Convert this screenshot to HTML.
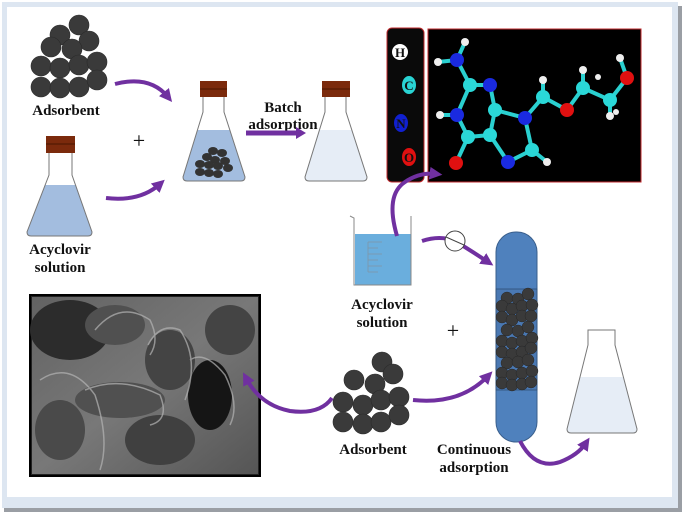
<!DOCTYPE html>
<html><head><meta charset="utf-8"><style>
html,body{margin:0;padding:0;background:#fff;}
svg{display:block;}
text{font-family:"Liberation Serif",serif;font-weight:bold;fill:#111;}
</style></head><body>
<svg width="685" height="512" viewBox="0 0 685 512" xmlns="http://www.w3.org/2000/svg">
<defs>
<marker id="ah" viewBox="0 0 10 10" refX="5" refY="5" markerWidth="3.2" markerHeight="3.2" orient="auto"><path d="M0,0 L10,5 L0,10 z" fill="#7030a0"/></marker>
<linearGradient id="sem" x1="0" y1="0" x2="1" y2="1"><stop offset="0" stop-color="#626262"/><stop offset="0.5" stop-color="#787878"/><stop offset="1" stop-color="#555"/></linearGradient>
</defs>
<!-- frame -->
<rect x="0" y="0" width="685" height="512" fill="#fff"/>
<rect x="4" y="6" width="678" height="506" fill="#9a9ea4"/>
<rect x="2" y="2" width="676" height="506" fill="#dde6f1"/>
<rect x="7" y="7" width="665" height="490" fill="#fff"/>

<!-- SEM -->
<rect x="30" y="295" width="230" height="181" fill="#222" stroke="#000" stroke-width="2"/>
<rect x="32" y="297" width="226" height="177" fill="url(#sem)"/>
<g>
<ellipse cx="70" cy="330" rx="40" ry="30" fill="#2c2c2c"/>
<ellipse cx="115" cy="325" rx="30" ry="20" fill="#505050"/>
<ellipse cx="170" cy="360" rx="25" ry="30" fill="#444"/>
<ellipse cx="210" cy="395" rx="22" ry="35" fill="#151515"/>
<ellipse cx="120" cy="400" rx="45" ry="18" fill="#505050"/>
<ellipse cx="160" cy="440" rx="35" ry="25" fill="#404040"/>
<ellipse cx="60" cy="430" rx="25" ry="30" fill="#4a4a4a"/>
<ellipse cx="230" cy="330" rx="25" ry="25" fill="#444"/>
</g>
<g fill="none" stroke="#b5b5b5" stroke-width="1.5" opacity="0.7">
<path d="M95,330 Q120,300 150,320 Q160,340 150,355"/>
<path d="M148,345 Q160,322 180,330 Q200,360 185,400"/>
<path d="M85,390 Q120,375 160,395 Q170,420 150,425"/>
<path d="M190,360 Q205,350 225,375 Q240,405 230,425"/>
<path d="M40,380 Q70,360 95,395 Q110,440 100,470"/>
</g>

<!-- top-left adsorbent -->
<g fill="#3a3a3a" stroke="#2a2a2a" stroke-width="0.6">
<circle cx="79" cy="25" r="10"/><circle cx="60" cy="35" r="10"/><circle cx="89" cy="41" r="10"/>
<circle cx="51" cy="47" r="10"/><circle cx="72" cy="49" r="10"/>
<circle cx="41" cy="66" r="10"/><circle cx="60" cy="68" r="10"/><circle cx="79" cy="65" r="10"/><circle cx="97" cy="62" r="10"/>
<circle cx="41" cy="87" r="10"/><circle cx="60" cy="88" r="10"/><circle cx="79" cy="87" r="10"/><circle cx="97" cy="80" r="10"/>
</g>
<text x="66" y="115" font-size="15" text-anchor="middle">Adsorbent</text>

<!-- left flask -->
<path d="M45.1,185 L27,232 Q27,236 31,236 L88,236 Q92,236 92,232 L75.9,185 Z" fill="#a3bddf"/>
<path d="M49,153 L49,175 L27,232 Q27,236 31,236 L88,236 Q92,236 92,232 L72,175 L72,153" fill="none" stroke="#777" stroke-width="1"/>
<rect x="46" y="136" width="29" height="17" fill="#7b2a0c"/><line x1="46" y1="144" x2="75" y2="144" stroke="#4a1500" stroke-width="1"/>
<text x="60" y="254" font-size="15" text-anchor="middle">Acyclovir</text>
<text x="60" y="272" font-size="15" text-anchor="middle">solution</text>

<text x="139" y="148" font-size="22" text-anchor="middle" style="font-weight:normal">+</text>

<!-- arrows to middle flask -->
<path d="M115,84 Q150,75 168,97" fill="none" stroke="#7030a0" stroke-width="4" marker-end="url(#ah)"/>
<path d="M106,198 Q140,202 160,184" fill="none" stroke="#7030a0" stroke-width="4" marker-end="url(#ah)"/>

<!-- middle flask -->
<path d="M197.8,130 L183,177 Q183,181 187,181 L241,181 Q245,181 245,177 L229.5,130 Z" fill="#a3bddf"/>
<path d="M203,97 L203,112 L183,177 Q183,181 187,181 L241,181 Q245,181 245,177 L224,112 L224,97" fill="none" stroke="#777" stroke-width="1"/>
<rect x="200" y="81" width="27" height="16" fill="#7b2a0c"/><line x1="200" y1="89" x2="227" y2="89" stroke="#4a1500"/>
<g fill="#333">
<ellipse cx="213" cy="151" rx="5" ry="4"/><ellipse cx="222" cy="153" rx="5" ry="4"/><ellipse cx="207" cy="157" rx="5" ry="4"/><ellipse cx="215" cy="160" rx="5" ry="4"/>
<ellipse cx="225" cy="161" rx="5" ry="4"/><ellipse cx="200" cy="164" rx="5" ry="4"/><ellipse cx="209" cy="165" rx="5" ry="4"/><ellipse cx="218" cy="166" rx="5" ry="4"/><ellipse cx="228" cy="168" rx="5" ry="4"/>
<ellipse cx="200" cy="172" rx="5" ry="4"/><ellipse cx="209" cy="173" rx="5" ry="4"/><ellipse cx="218" cy="174" rx="5" ry="4"/>
</g>
<text x="283" y="112" font-size="15" text-anchor="middle">Batch</text>
<text x="283" y="129" font-size="15" text-anchor="middle">adsorption</text>
<line x1="246" y1="133" x2="297" y2="133" stroke="#7030a0" stroke-width="5"/>
<polygon points="296,127 306,133 296,139" fill="#7030a0"/>

<!-- right flask -->
<path d="M319.8,130 L305,177 Q305,181 309,181 L363,181 Q367,181 367,177 L351.5,130 Z" fill="#e6edf6"/>
<path d="M325,97 L325,112 L305,177 Q305,181 309,181 L363,181 Q367,181 367,177 L346,112 L346,97" fill="none" stroke="#777" stroke-width="1"/>
<rect x="322" y="81" width="28" height="16" fill="#7b2a0c"/><line x1="322" y1="89" x2="350" y2="89" stroke="#4a1500"/>

<!-- molecule legend -->
<rect x="387" y="28" width="37" height="154" rx="5" fill="#0a0a0a" stroke="#c0282c" stroke-width="1"/>
<circle cx="400" cy="52" r="8" fill="#fff"/><text x="400" y="57" font-size="13" text-anchor="middle">H</text>
<ellipse cx="409" cy="85" rx="7" ry="9" fill="#29d4d4"/><text x="409" y="90" font-size="13" text-anchor="middle">C</text>
<ellipse cx="401" cy="123" rx="7" ry="9" fill="#1020d0"/><text x="401" y="128" font-size="13" text-anchor="middle">N</text>
<ellipse cx="409" cy="157" rx="7" ry="9" fill="#e01010"/><text x="409" y="162" font-size="13" text-anchor="middle">O</text>
<!-- molecule box -->
<rect x="428" y="29" width="213" height="153" fill="#000" stroke="#c0282c" stroke-width="1"/>
<g stroke-width="4" fill="none">
<path d="M465,42 L457,60 L438,62 M457,60 L470,85 L490,85 L495,110 L490,135 L468,137 L457,115 L470,85 M457,115 L440,115 M468,137 L456,163 M490,135 L508,162 L532,150 L547,162 M532,150 L525,118 L495,110 M525,118 L543,97 L543,80 M543,97 L567,110 L583,88 L583,70 M583,88 L610,100 L610,115 M610,100 L627,78 L620,58" stroke="#2ad0d0"/>
</g>
<g>
<circle cx="465" cy="42" r="4" fill="#eee"/><circle cx="438" cy="62" r="4" fill="#eee"/><circle cx="440" cy="115" r="4" fill="#eee"/>
<circle cx="547" cy="162" r="4" fill="#eee"/><circle cx="543" cy="80" r="4" fill="#eee"/><circle cx="583" cy="70" r="4" fill="#eee"/><circle cx="598" cy="77" r="3" fill="#eee"/>
<circle cx="610" cy="116" r="4" fill="#eee"/><circle cx="616" cy="112" r="3" fill="#eee"/><circle cx="620" cy="58" r="4" fill="#eee"/>
<circle cx="457" cy="60" r="7" fill="#1a2ae0"/><circle cx="490" cy="85" r="7" fill="#1a2ae0"/><circle cx="457" cy="115" r="7" fill="#1a2ae0"/>
<circle cx="508" cy="162" r="7" fill="#1a2ae0"/><circle cx="525" cy="118" r="7" fill="#1a2ae0"/>
<circle cx="470" cy="85" r="7" fill="#2ad8d8"/><circle cx="495" cy="110" r="7" fill="#2ad8d8"/><circle cx="490" cy="135" r="7" fill="#2ad8d8"/>
<circle cx="468" cy="137" r="7" fill="#2ad8d8"/><circle cx="532" cy="150" r="7" fill="#2ad8d8"/><circle cx="543" cy="97" r="7" fill="#2ad8d8"/>
<circle cx="583" cy="88" r="7" fill="#2ad8d8"/><circle cx="610" cy="100" r="7" fill="#2ad8d8"/>
<circle cx="456" cy="163" r="7" fill="#e01010"/><circle cx="567" cy="110" r="7" fill="#e01010"/><circle cx="627" cy="78" r="7" fill="#e01010"/>
</g>

<!-- beaker -->
<path d="M355,234 L355,285 L411,285 L411,234 Z" fill="#6aaedd"/>
<path d="M350,216 L354,218 L354,285 L411,285 L411,216" fill="none" stroke="#888" stroke-width="1"/>
<g stroke="#7f96a8" stroke-width="0.8"><line x1="368" y1="242" x2="382" y2="242"/><line x1="368" y1="248" x2="378" y2="248"/><line x1="368" y1="254" x2="382" y2="254"/><line x1="368" y1="260" x2="378" y2="260"/><line x1="368" y1="266" x2="382" y2="266"/><line x1="368" y1="272" x2="378" y2="272"/><line x1="368" y1="242" x2="368" y2="272"/></g>
<text x="382" y="309" font-size="15" text-anchor="middle">Acyclovir</text>
<text x="382" y="327" font-size="15" text-anchor="middle">solution</text>
<path d="M397,236 Q385,195 405,182 Q420,172 436,174" fill="none" stroke="#7030a0" stroke-width="4" marker-end="url(#ah)"/>
<path d="M422,241 Q440,235 455,241 Q470,250 488,262" fill="none" stroke="#7030a0" stroke-width="4" marker-end="url(#ah)"/>
<circle cx="455" cy="241" r="10" fill="#fff" stroke="#444" stroke-width="1"/>
<line x1="446" y1="237" x2="464" y2="245" stroke="#444"/>

<!-- column -->
<rect x="496" y="232" width="41" height="210" rx="20" fill="#4f81bd" stroke="#3a5f8c" stroke-width="1"/>
<rect x="496" y="289" width="41" height="101" fill="#4a78b2" stroke="#2f4f75" stroke-width="0.8"/>
<g fill="#3a3a3a" stroke="#222" stroke-width="0.4">
<circle cx="507" cy="298" r="6"/><circle cx="518" cy="299" r="6"/><circle cx="528" cy="294" r="6"/>
<circle cx="502" cy="306" r="6"/><circle cx="512" cy="309" r="6"/><circle cx="522" cy="306" r="6"/><circle cx="532" cy="305" r="6"/>
<circle cx="502" cy="317" r="6"/><circle cx="512" cy="320" r="6"/><circle cx="522" cy="316" r="6"/><circle cx="531" cy="316" r="6"/>
<circle cx="507" cy="330" r="6"/><circle cx="518" cy="331" r="6"/><circle cx="528" cy="327" r="6"/>
<circle cx="502" cy="341" r="6"/><circle cx="512" cy="343" r="6"/><circle cx="522" cy="341" r="6"/><circle cx="532" cy="338" r="6"/>
<circle cx="502" cy="352" r="6"/><circle cx="512" cy="354" r="6"/><circle cx="522" cy="352" r="6"/><circle cx="531" cy="348" r="6"/>
<circle cx="507" cy="363" r="6"/><circle cx="518" cy="362" r="6"/><circle cx="528" cy="360" r="6"/>
<circle cx="502" cy="373" r="6"/><circle cx="512" cy="375" r="6"/><circle cx="522" cy="373" r="6"/><circle cx="532" cy="371" r="6"/>
<circle cx="502" cy="383" r="6"/><circle cx="512" cy="385" r="6"/><circle cx="522" cy="384" r="6"/><circle cx="531" cy="382" r="6"/>
</g>

<text x="453" y="338" font-size="22" text-anchor="middle" style="font-weight:normal">+</text>

<!-- bottom adsorbent -->
<g fill="#3a3a3a" stroke="#2a2a2a" stroke-width="0.6">
<circle cx="382" cy="362" r="10"/><circle cx="354" cy="380" r="10"/><circle cx="393" cy="374" r="10"/><circle cx="375" cy="384" r="10"/>
<circle cx="343" cy="402" r="10"/><circle cx="363" cy="405" r="10"/><circle cx="381" cy="400" r="10"/><circle cx="399" cy="397" r="10"/>
<circle cx="343" cy="422" r="10"/><circle cx="363" cy="424" r="10"/><circle cx="381" cy="422" r="10"/><circle cx="399" cy="415" r="10"/>
</g>
<text x="373" y="454" font-size="15" text-anchor="middle">Adsorbent</text>
<text x="474" y="454" font-size="15" text-anchor="middle">Continuous</text>
<text x="474" y="472" font-size="15" text-anchor="middle">adsorption</text>

<path d="M413,400 Q460,405 488,376" fill="none" stroke="#7030a0" stroke-width="4" marker-end="url(#ah)"/>
<path d="M520,441 Q535,470 560,462 Q578,455 586,443" fill="none" stroke="#7030a0" stroke-width="4" marker-end="url(#ah)"/>
<path d="M332,398 Q320,415 290,411 Q260,405 246,378" fill="none" stroke="#7030a0" stroke-width="4" marker-end="url(#ah)"/>

<!-- bottom-right flask -->
<path d="M580.4,377 L567,429 Q567,433 571,433 L633,433 Q637,433 637,429 L623,377 Z" fill="#e6edf6"/>
<path d="M588,330 L588,345 L567,429 Q567,433 571,433 L633,433 Q637,433 637,429 L615,345 L615,330 Z" fill="none" stroke="#777" stroke-width="1"/>
</svg>
</body></html>
